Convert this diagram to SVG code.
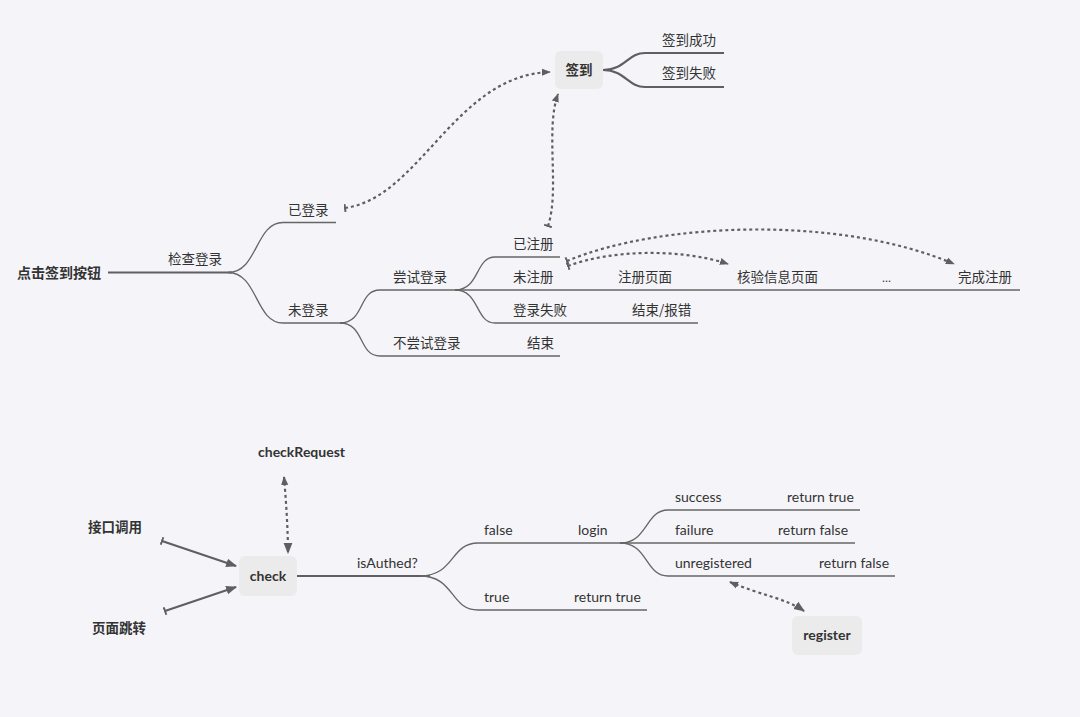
<svg xmlns="http://www.w3.org/2000/svg" width="1080" height="717" viewBox="0 0 1080 717">
<style>
.bg{fill:#f5f5f9}
.t{font-family:"Noto Sans CJK SC","Noto Sans",sans-serif;font-size:13.5px;fill:#333}
.e{font-family:Lato,"Noto Sans",sans-serif;font-size:14px;fill:#333}
.b{font-weight:bold}
.br{fill:none;stroke:#666;stroke-width:1.3}
.thick{fill:none;stroke:#5f5f63;stroke-width:2.2}
.dot{fill:none;stroke:#5f5f63;stroke-width:2.2;stroke-dasharray:3 3}
.node{fill:#ebebeb}
</style>
<defs>
<marker id="arrS" viewBox="0 0 10 10" refX="9" refY="5" markerWidth="9" markerHeight="9" markerUnits="userSpaceOnUse" orient="auto-start-reverse">
<path d="M0,1 L10,5 L0,9 z" fill="#5f5f63"/>
</marker>
<marker id="arrB" viewBox="0 0 10 10" refX="9" refY="5" markerWidth="11" markerHeight="11" markerUnits="userSpaceOnUse" orient="auto-start-reverse">
<path d="M0,1 L10,5 L0,9 z" fill="#5f5f63"/>
</marker>
<marker id="tbar" viewBox="0 0 10 10" refX="1" refY="5" markerWidth="10" markerHeight="10" markerUnits="userSpaceOnUse" orient="auto">
<path d="M1,1 L1,9" stroke="#5f5f63" stroke-width="2"/>
</marker>
</defs>
<rect class="bg" x="0" y="0" width="1080" height="717"/>

<g id="connectors">
<path class="thick" d="M108,272.5 H232"/>
<path class="br" d="M228,272.5 C258,272.5 255,222.5 283,222.5 H336"/>
<path class="br" d="M228,272.5 C258,272.5 255,323 283,323 H345"/>
<path class="br" d="M340,323 C365,323 358,290 380,290 H462"/>
<path class="br" d="M340,323 C365,323 358,356 380,356 H560"/>
<path class="br" d="M455,290 C480,290 475,257 495,257 H560"/>
<path class="br" d="M455,290 H1020"/>
<path class="br" d="M455,290 C480,290 475,323 495,323 H698"/>
<path class="thick" d="M603,70 C625,70 628,53 645,53 H724"/>
<path class="thick" d="M603,70 C625,70 628,87 645,87 H724"/>
<path class="dot" d="M345,208 C420,198 455,75 550,72" marker-start="url(#tbar)" marker-end="url(#arrS)"/>
<path class="dot" d="M548,226 C560,190 545,130 558,94" marker-start="url(#tbar)" marker-end="url(#arrS)"/>
<path class="dot" d="M568,266 C610,250 680,248 728,264" marker-start="url(#tbar)" marker-end="url(#arrS)"/>
<path class="dot" d="M567,261 C660,222 840,215 954,264" marker-start="url(#tbar)" marker-end="url(#arrS)"/>
<path class="thick" d="M162,541 L236,566" marker-start="url(#tbar)" marker-end="url(#arrB)"/>
<path class="thick" d="M165,611 L236,587" marker-start="url(#tbar)" marker-end="url(#arrB)"/>
<path class="thick" d="M297,576 H430"/>
<path class="br" d="M420,576 C455,576 450,543 478,543 H628"/>
<path class="br" d="M420,576 C455,576 450,610 478,610 H647"/>
<path class="br" d="M620,543 C648,543 645,510 668,510 H860"/>
<path class="br" d="M620,543 H855"/>
<path class="br" d="M620,543 C648,543 645,576 668,576 H895"/>
<path class="dot" d="M284,477 C286,500 288,530 288,553" marker-start="url(#arrS)" marker-end="url(#arrB)"/>
<path class="dot" d="M730,582 C760,595 785,598 804,611" marker-start="url(#arrS)" marker-end="url(#arrB)"/>
</g>

<g id="root"><text class="t b" x="17" y="278" style="font-size:14px">点击签到按钮</text></g>
<g id="n-check-login"><text class="t" x="168" y="264">检查登录</text></g>
<g id="n-logged"><text class="t" x="288" y="215">已登录</text></g>
<g id="n-notlogged"><text class="t" x="288" y="315">未登录</text></g>
<g id="n-try"><text class="t" x="393" y="282">尝试登录</text></g>
<g id="n-notry"><text class="t" x="393" y="348">不尝试登录</text></g>
<g id="n-end1"><text class="t" x="527" y="348">结束</text></g>
<g id="n-registered"><text class="t" x="513" y="249">已注册</text></g>
<g id="n-unregistered"><text class="t" x="513" y="282">未注册</text></g>
<g id="n-regpage"><text class="t" x="618" y="282">注册页面</text></g>
<g id="n-verify"><text class="t" x="737" y="282">核验信息页面</text></g>
<g id="n-dots"><text class="t" x="882" y="282" style="font-size:11px">...</text></g>
<g id="n-done"><text class="t" x="958" y="282">完成注册</text></g>
<g id="n-loginfail"><text class="t" x="513" y="315">登录失败</text></g>
<g id="n-enderr"><text class="t" x="632" y="315">结束/报错</text></g>
<g id="n-sign"><rect class="node" x="555" y="51" width="48" height="38" rx="6"/><text class="t b" x="579" y="75" text-anchor="middle">签到</text></g>
<g id="n-signok"><text class="t" x="662" y="45">签到成功</text></g>
<g id="n-signfail"><text class="t" x="662" y="78">签到失败</text></g>

<g id="n-checkRequest"><text class="e b" x="258" y="457">checkRequest</text></g>
<g id="n-api"><text class="t b" x="88" y="532">接口调用</text></g>
<g id="n-page"><text class="t b" x="92" y="633">页面跳转</text></g>
<g id="n-check"><rect class="node" x="239" y="556" width="58" height="40" rx="6"/><text class="e b" x="268" y="581" text-anchor="middle">check</text></g>
<g id="n-isauthed"><text class="e" x="357" y="568">isAuthed?</text></g>
<g id="n-false"><text class="e" x="484" y="535">false</text></g>
<g id="n-login"><text class="e" x="578" y="535">login</text></g>
<g id="n-true"><text class="e" x="484" y="602">true</text></g>
<g id="n-rt1"><text class="e" x="574" y="602">return true</text></g>
<g id="n-success"><text class="e" x="675" y="502">success</text></g>
<g id="n-rt2"><text class="e" x="787" y="502">return true</text></g>
<g id="n-failure"><text class="e" x="675" y="535">failure</text></g>
<g id="n-rf1"><text class="e" x="778" y="535">return false</text></g>
<g id="n-unreg"><text class="e" x="675" y="568">unregistered</text></g>
<g id="n-rf2"><text class="e" x="819" y="568">return false</text></g>
<g id="n-register"><rect class="node" x="792" y="616" width="70" height="39" rx="6"/><text class="e b" x="827" y="640" text-anchor="middle">register</text></g>
</svg>
